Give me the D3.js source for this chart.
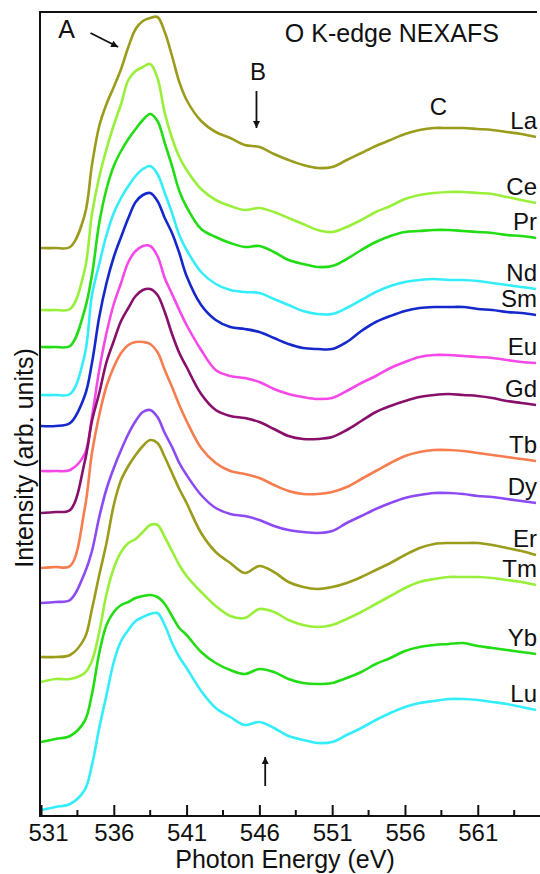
<!DOCTYPE html>
<html>
<head>
<meta charset="utf-8">
<script src="https://cdn.jsdelivr.net/npm/d3@7"></script>
<style>
body { margin: 0; background: #fff; }
svg text { font-family: "Liberation Sans", Arial, Helvetica, sans-serif; fill: #111; }
</style>
</head>
<body>
<svg id="chart" width="540" height="874"></svg>
<script>
// photon energy grid (eV)
var energy = [531, 532, 533, 534, 534.5, 535, 535.5, 536, 536.5, 537, 537.5, 538, 538.5, 539, 539.5, 540, 540.5,
  541, 542, 543, 544, 545, 546, 547, 548, 549, 550, 551, 552, 553, 554, 555, 556, 557, 558, 559, 560, 561, 562, 563, 564, 565];

// stacked intensities (arb. units, offset already included)
var La = [568,568,569,601,651, 690,712,729,747,769,787,795,798,799,784,760,734, 716,695,684,678,671,669,662,656,651,648, 649,656,663,670,676,682,686,688,688,688, 687,686,684,682,679];
var Ce = [506,506,507,546,602, 639,667,691,712,736,745,749,752,738,703,678,659, 646,627,616,610,606,608,604,598,592,586, 584,589,596,604,610,617,621,623,624,624, 623,622,619,616,613];
var Pr = [469,469,470,506,541, 593,627,650,665,677,687,696,702,695,673,650,625, 609,587,579,573,569,570,564,556,552,549, 550,557,566,574,580,584,585,586,586,585, 584,583,581,580,578];
var Nd = [421,421,422,461,521, 552,581,603,618,630,640,647,650,642,623,603,581, 566,544,532,526,524,523,517,511,505,502, 502,508,516,524,530,534,536,537,536,536, 535,533,531,529,527];
var Sm = [390,390,393,420,453, 499,533,559,579,598,614,621,623,615,598,583,563, 540,511,496,489,487,484,478,472,468,467, 467,474,485,494,500,505,508,509,509,509, 507,506,504,503,501];
var Eu = [345,345,346,362,399, 446,483,512,533,554,565,570,570,560,538,522,506, 491,466,446,440,438,434,427,422,419,417, 418,425,433,440,448,454,459,461,461,460, 459,458,456,454,453];
var Gd = [303,304,306,354,395, 423,454,475,495,508,520,526,527,521,504,482,463, 449,422,406,400,398,394,387,380,377,377, 379,386,395,404,410,415,419,421,422,421, 420,418,415,413,411];
var Tb = [248,249,250,307,363, 401,430,449,463,471,474,474,472,464,446,429,411, 395,368,353,345,342,338,331,325,322,322, 324,329,337,345,353,360,364,366,366,365, 363,361,359,357,355];
var Dy = [213,214,216,243,265, 299,327,348,366,382,395,404,406,399,383,369,353, 341,321,308,302,300,296,290,286,284,283, 285,293,300,307,313,318,321,323,323,322, 320,319,317,315,313];
var Er = [159,159,161,178,207, 241,273,311,336,350,361,370,376,373,359,343,327, 313,283,264,253,243,250,244,234,229,227, 229,233,239,246,253,261,268,272,273,273, 273,271,268,265,261];
var Tm = [134,137,137,143,155, 184,222,248,264,273,277,284,291,291,279,265,251, 240,224,210,200,198,207,204,196,191,189, 191,197,204,212,220,228,234,237,239,239, 239,238,236,234,231];
var Yb = [74,77,80,95,122, 163,191,204,211,214,218,220,221,219,212,200,188, 181,164,153,146,142,147,144,137,133,132, 133,138,144,152,158,165,169,171,172,173, 170,168,166,164,162];
var Lu = [6,9,12,26,51, 88,121,154,175,186,195,199,202,203,191,173,159, 148,125,108,99,91,94,88,80,76,73, 74,81,88,96,103,109,113,115,117,117, 116,114,112,109,106];

var names = ["La", "Ce", "Pr", "Nd", "Sm", "Eu", "Gd", "Tb", "Dy", "Er", "Tm", "Yb", "Lu"];
var spectra = [La, Ce, Pr, Nd, Sm, Eu, Gd, Tb, Dy, Er, Tm, Yb, Lu];
var colors = ["#9b9b1c", "#99f03a", "#22dd14", "#33eefa", "#1428cc", "#f548e8", "#88106a",
  "#f77d4f", "#8c4af5", "#9b9b1c", "#99f03a", "#22dd14", "#33eefa"];

var majorTicks = [531, 536, 541, 546, 551, 556, 561];
var minorTicks = [533.5, 538.5, 543.5, 548.5, 553.5, 558.5, 563.5];

var svg = d3.select("#chart");

var x = d3.scaleLinear().domain([531, 565]).range([41, 536]);
var y = d3.scaleLinear().domain([0, 804]).range([816, 12]);

var line = d3.line()
  .x(function (d, i) { return x(energy[i]); })
  .y(function (d) { return y(d); })
  .curve(d3.curveCatmullRom.alpha(0.5));

// curves
svg.append("g").selectAll("path").data(spectra).enter()
  .append("path")
    .attr("d", line)
    .attr("fill", "none")
    .attr("stroke", function (d, i) { return colors[i]; })
    .attr("stroke-width", 2.6)
    .attr("stroke-linejoin", "round");

// element labels, right aligned just above each curve end
svg.append("g").selectAll("text").data(spectra).enter()
  .append("text")
    .attr("x", 537)
    .attr("y", function (d) { return y(d[d.length - 1]) - 8; })
    .attr("text-anchor", "end")
    .attr("font-size", 24)
    .text(function (d, i) { return names[i]; });

// frame: left, top, bottom
svg.append("path")
  .attr("d", "M537,12 H40 V816 H540")
  .attr("fill", "none")
  .attr("stroke", "#111")
  .attr("stroke-width", 2);

// bottom axis ticks, pointing inward
var xAxis = d3.axisBottom(x).tickValues(majorTicks).tickSize(-11).tickPadding(0).tickFormat(d3.format("d"));
var gx = svg.append("g").attr("transform", "translate(0,816)").call(xAxis);
gx.select(".domain").remove();
gx.selectAll(".tick line").attr("stroke", "#111").attr("stroke-width", 2);
gx.selectAll(".tick text")
  .attr("y", 25)
  .attr("dy", 0)
  .attr("font-size", 24)
  .attr("fill", "#111")
  .attr("font-family", "Liberation Sans, Arial, sans-serif")
  .attr("dx", function (d) { return d === 531 ? 7 : 0; });

svg.append("g").selectAll("line").data(minorTicks).enter()
  .append("line")
    .attr("x1", function (d) { return x(d); })
    .attr("x2", function (d) { return x(d); })
    .attr("y1", 816)
    .attr("y2", 810)
    .attr("stroke", "#111")
    .attr("stroke-width", 2);

// axis titles
svg.append("text")
  .attr("x", 285)
  .attr("y", 868)
  .attr("text-anchor", "middle")
  .attr("font-size", 25)
  .text("Photon Energy (eV)");

svg.append("text")
  .attr("transform", "translate(33,458) rotate(-90)")
  .attr("text-anchor", "middle")
  .attr("font-size", 25)
  .text("Intensity (arb. units)");

svg.append("text")
  .attr("x", x(547.75))
  .attr("y", 42)
  .attr("font-size", 25)
  .text("O K-edge NEXAFS");

// annotations
var defs = svg.append("defs");
defs.append("marker")
  .attr("id", "head")
  .attr("viewBox", "0 0 10 10")
  .attr("refX", 10).attr("refY", 5)
  .attr("markerWidth", 11).attr("markerHeight", 7)
  .attr("markerUnits", "userSpaceOnUse")
  .attr("orient", "auto")
  .append("path").attr("d", "M0,0 L10,5 L0,10 z").attr("fill", "#111");

function arrow(e1, v1, e2, v2) {
  svg.append("line")
    .attr("x1", x(e1)).attr("y1", y(v1))
    .attr("x2", x(e2)).attr("y2", y(v2))
    .attr("stroke", "#111")
    .attr("stroke-width", 1.8)
    .attr("marker-end", "url(#head)");
}

svg.append("text").attr("x", x(532.75)).attr("y", y(778)).attr("text-anchor", "middle").attr("font-size", 25).text("A");
arrow(534.4, 783, 536.3, 769);

svg.append("text").attr("x", x(545.9)).attr("y", y(736)).attr("text-anchor", "middle").attr("font-size", 24).text("B");
arrow(545.8, 725, 545.8, 688);

svg.append("text").attr("x", x(558.3)).attr("y", y(701)).attr("text-anchor", "middle").attr("font-size", 24).text("C");

arrow(546.4, 30, 546.4, 59);
</script>
</body>
</html>
